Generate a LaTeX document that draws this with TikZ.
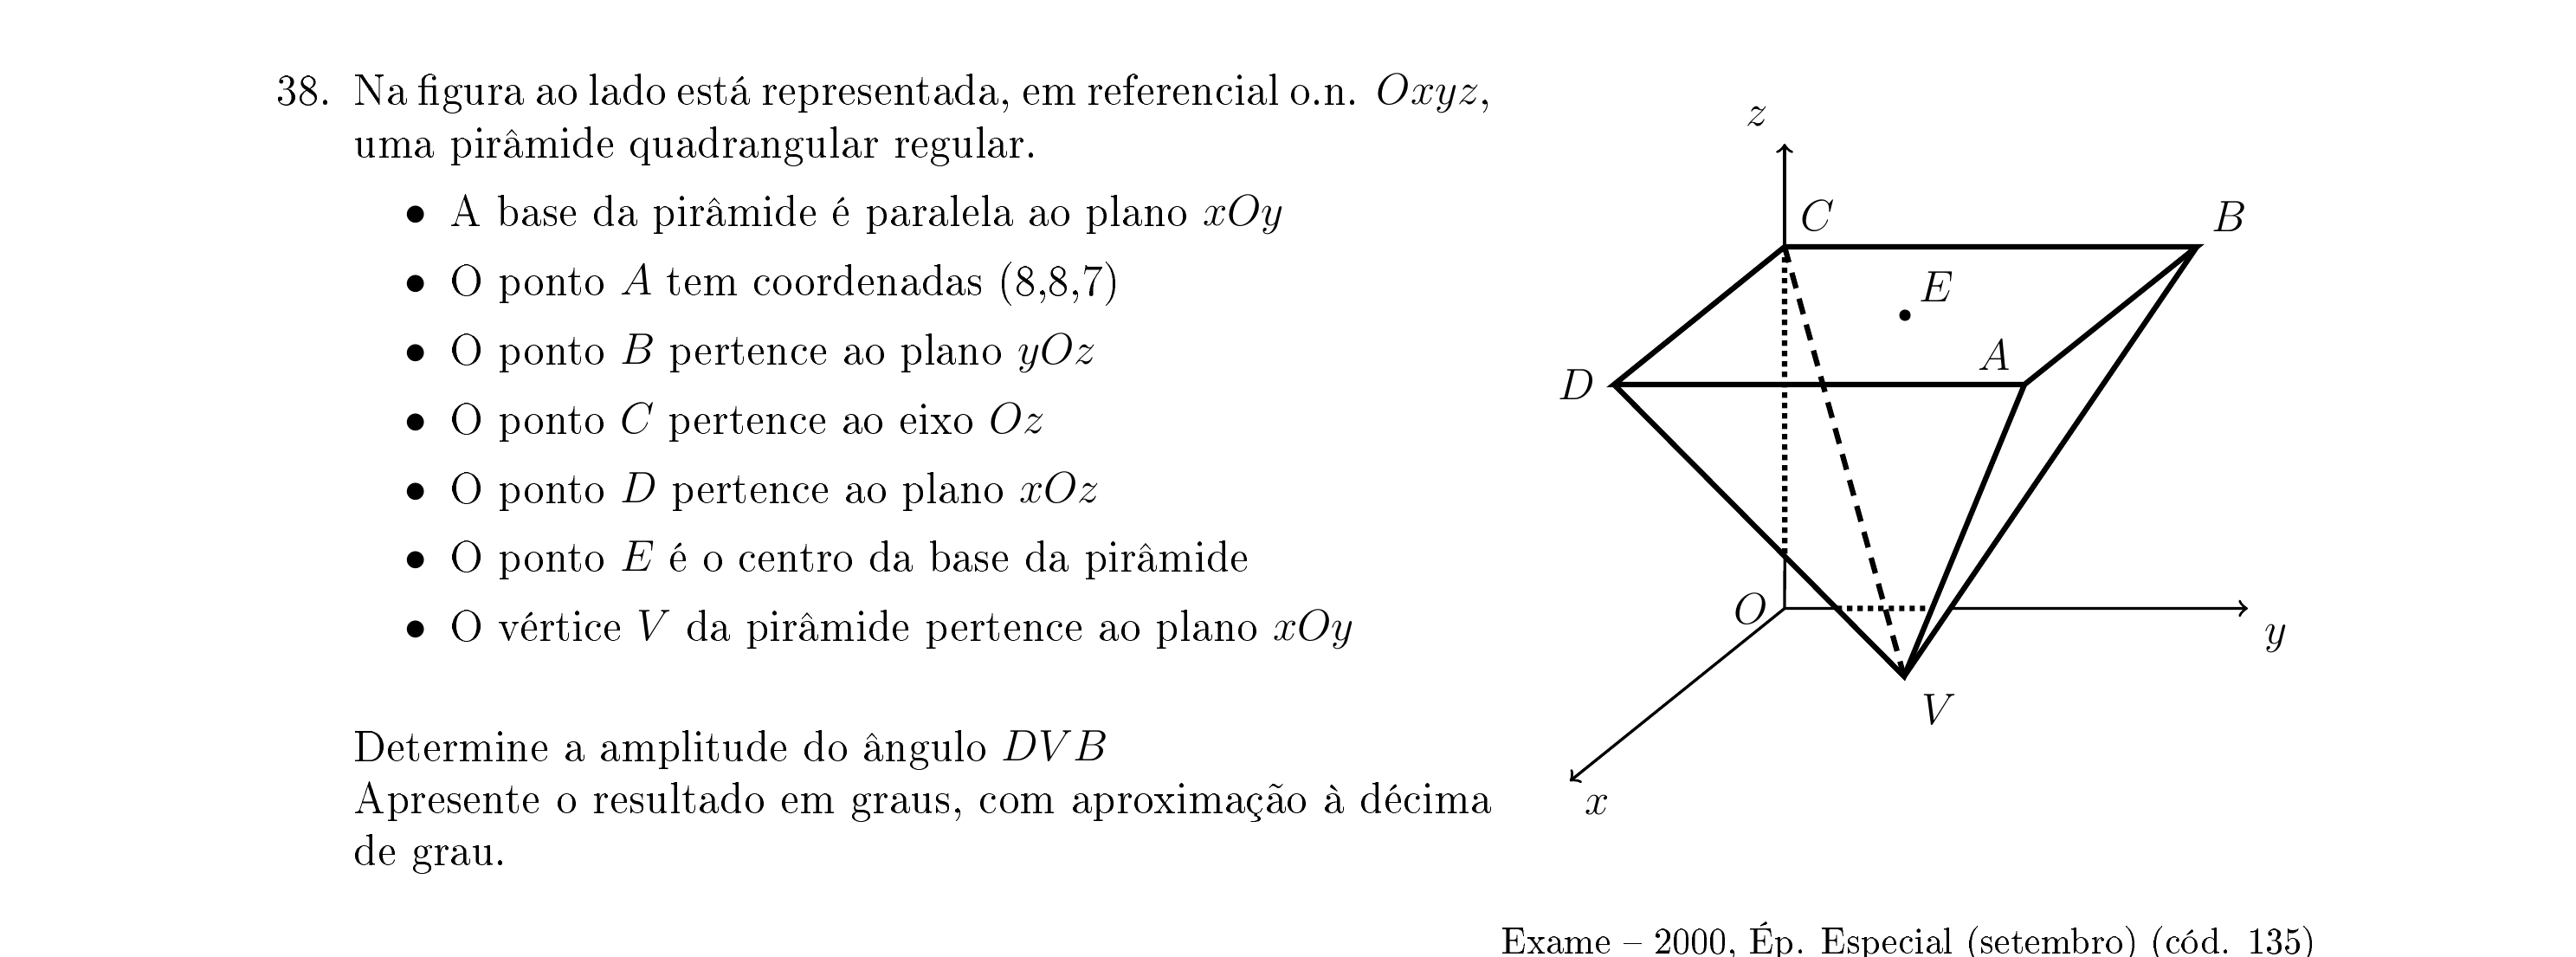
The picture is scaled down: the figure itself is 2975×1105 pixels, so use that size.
\documentclass[tikz,border=0pt]{standalone}
\usepackage{amsmath,amssymb}
\usepackage[T1]{fontenc}
\usetikzlibrary{calc}

\begin{document}
\begin{tikzpicture}[
    x=0.2415pt, y=-0.2415pt,
    every node/.style={font=\fontsize{12}{14.2}\selectfont, inner sep=0pt,
      transform shape, scale=1.0225},
    textline/.style={anchor=base west},
    textblock/.style={anchor=base west, text width=1285*0.2415pt, align=justify},
    edge thick/.style={line width=1.5pt},
    axis line/.style={line width=0.8pt},
    hidden dots/.style={line width=1.5pt, dash pattern=on 1.5pt off 1.4pt},
    hidden dash/.style={line width=1.5pt, dash pattern=on 4.5pt off 3pt},
  ]
  \useasboundingbox (0,0) rectangle (2975,1105);

  %% ---- statement ----
  \node[textline] (num) at (319,121) {38.};
  \node[textblock] (intro) at (408,121)
    {Na figura ao lado está representada, em referencial o.n. $Oxyz$,
     uma pirâmide quadrangular regular.};

  %% ---- list ----
  \node[textline] (item1) at (519,261) {A base da pirâmide é paralela ao plano $xOy$};
  \node[textline] (item2) at (519,341) {O ponto $A$ tem coordenadas (8,8,7)};
  \node[textline] (item3) at (519,420) {O ponto $B$ pertence ao plano $yOz$};
  \node[textline] (item4) at (519,500) {O ponto $C$ pertence ao eixo $Oz$};
  \node[textline] (item5) at (519,580) {O ponto $D$ pertence ao plano $xOz$};
  \node[textline] (item6) at (519,659) {O ponto $E$ é o centro da base da pirâmide};
  \node[textline] (item7) at (519,739) {O vértice $V$ da pirâmide pertence ao plano $xOy$};

  % bullets
  \foreach \n in {1,...,7}
    \node[anchor=base, xshift=-38*0.2415pt] (dot\n) at (item\n.base west) {$\bullet$};

  \node[textblock] (ask) at (408,878)
    {Determine a amplitude do ângulo $DVB$\\
     Apresente o resultado em graus, com aproximação à décima de grau.};
  \node[anchor=base east, font=\fontsize{10}{12}\selectfont] (exam) at (2676,1100)
    {Exame -- 2000, Ép. Especial (setembro) (cód. 135)};

  %% ---- points of the figure ----
  \coordinate (O) at (2061,702.5);
  \coordinate (C) at (2061,285);
  \coordinate (B) at (2537,285);
  \coordinate (A) at (2338,444);
  \coordinate (D) at (1864,444);
  \coordinate (V) at (2199,781);
  \coordinate (xtip) at (1813,902);
  \coordinate (ytip) at (2596,702.5);
  \coordinate (ztip) at (2061,166);
  \node[circle, fill=black, minimum size=3.1pt] (E) at (2200,364) {};

  % where the axes go behind the pyramid
  \coordinate (zcut) at (intersection of D--V and O--C);
  \coordinate (ycut1) at (intersection of D--V and O--ytip);
  \coordinate (ycut2) at (intersection of A--V and O--ytip);
  \coordinate (ycut3) at (intersection of B--V and O--ytip);

  %% ---- axes ----
  \draw[axis line, ->] (O) -- (xtip);
  \draw[axis line] (O) -- (ycut1);
  \draw[axis line, ->] (ycut3) -- (ytip);
  \draw[axis line] (O) -- (zcut);
  \draw[axis line, ->] (C) -- (ztip);

  %% ---- hidden lines ----
  \draw[hidden dots] (C) -- (zcut);
  \draw[hidden dots] (ycut1) -- (ycut2);
  \draw[hidden dash] (C) -- (V);

  %% ---- pyramid ----
  \draw[edge thick] (C) -- (B) -- (A) -- (D) -- cycle;
  \draw[edge thick] (D) -- (V) -- (A);
  \draw[edge thick] (B) -- (V);

  %% ---- labels ----
  \node (lz) at (2029,135) {$z$};
  \node (lC) at (2099,249) {$C$};
  \node (lB) at (2575,250) {$B$};
  \node (lE) at (2236,331) {$E$};
  \node (lA) at (2303,410) {$A$};
  \node (lD) at (1821,444) {$D$};
  \node (lO) at (2022,703) {$O$};
  \node (ly) at (2629,737) {$y$};
  \node (lV) at (2239,819) {$V$};
  \node (lx) at (1845,930) {$x$};
\end{tikzpicture}
\end{document}
